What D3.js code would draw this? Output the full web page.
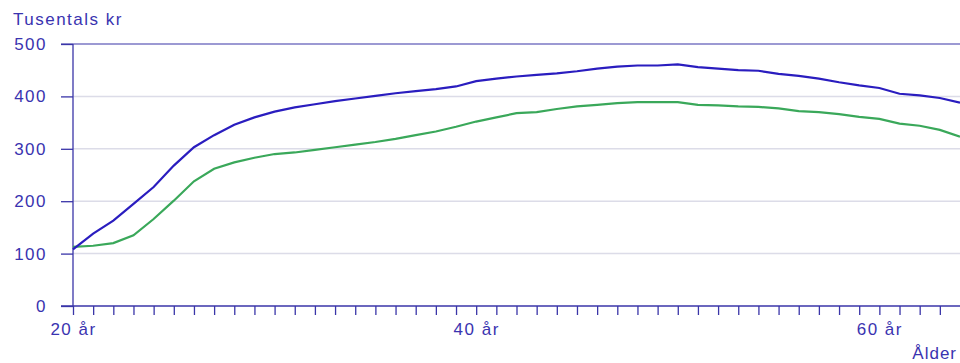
<!DOCTYPE html>
<html>
<head>
<meta charset="utf-8">
<script src="https://cdn.jsdelivr.net/npm/d3@7"></script>
<style>
  html, body { margin: 0; padding: 0; background: #fff; }
  svg { display: block; font-family: "Liberation Sans", Arial, sans-serif; }
  .lbl { font-size: 17px; letter-spacing: 1.5px; }
</style>
</head>
<body>
<svg id="chart" width="960" height="363"></svg>
<script>
// Data
const ages = d3.range(20, 65);
const seriesBlue = [108, 138, 163, 195, 227, 268, 303, 326, 346, 360,
                    371, 379, 385, 391, 396, 401, 406, 410, 414, 419,
                    429, 434, 438, 441, 444, 448, 453, 457, 459, 459,
                    461, 456, 453, 450, 449, 443, 439, 434, 427, 421,
                    416, 405, 402, 397, 388];
const seriesGreen = [113, 115, 120, 135, 166, 201, 238, 262, 274, 283,
                     290, 293, 298, 303, 308, 313, 319, 326, 333, 342,
                     352, 360, 368, 370, 376, 381, 384, 387, 389, 389,
                     389, 384, 383, 381, 380, 377, 372, 370, 366, 361,
                     357, 348, 344, 336, 323];
const yTicks = [0, 100, 200, 300, 400, 500];
const xLabelTicks = [20, 40, 60];
const yTitle = "Tusentals kr";
const xTitle = "Ålder";

const axisColor = "#3a35a8";
const textColor = "#3a33b0";

const svg = d3.select("#chart");
const x = d3.scaleLinear().domain([20, 64]).range([73, 960]);
const y = d3.scaleLinear().domain([0, 500]).range([306, 44]);

// gridlines
svg.append("g").selectAll("line").data(yTicks.filter(d => d > 0 && d < 500)).join("line")
  .attr("x1", x(20)).attr("x2", 960)
  .attr("y1", d => y(d)).attr("y2", d => y(d))
  .attr("stroke", "#dcdce8").attr("stroke-width", 1.5);

// top line at 500
svg.append("line").attr("x1", 61).attr("x2", 960)
  .attr("y1", y(500)).attr("y2", y(500))
  .attr("stroke", axisColor).attr("stroke-width", 1.2);

// y axis
const yAxis = d3.axisLeft(y).tickValues(yTicks).tickSize(12).tickPadding(14);
const gy = svg.append("g").attr("transform", `translate(${x(20)},0)`).call(yAxis);
gy.select(".domain").attr("stroke", axisColor).attr("stroke-width", 1.3).attr("d", `M0,${y(0)}V${y(500)}`);
gy.selectAll(".tick line").attr("stroke", axisColor).attr("stroke-width", 1.3);
gy.selectAll(".tick text").attr("fill", textColor).attr("class", "lbl")
  .attr("font-family", "Liberation Sans, Arial, sans-serif");

// x axis
const xAxis = d3.axisBottom(x).tickValues(d3.range(20, 64)).tickSize(9)
  .tickFormat(d => xLabelTicks.includes(d) ? d + " år" : "").tickPadding(8);
const gx = svg.append("g").attr("transform", `translate(0,${y(0)})`).call(xAxis);
gx.select(".domain").attr("stroke", axisColor).attr("stroke-width", 1.3).attr("d", `M61,0H960`);
gx.selectAll(".tick line").attr("stroke", axisColor).attr("stroke-width", 1.3);
gx.selectAll(".tick text").attr("fill", textColor).attr("class", "lbl")
  .attr("font-family", "Liberation Sans, Arial, sans-serif");

// titles
svg.append("text").attr("x", 13).attr("y", 25).text(yTitle)
  .attr("fill", textColor).attr("class", "lbl");
svg.append("text").attr("x", 957).attr("y", 359).attr("text-anchor", "end").text(xTitle)
  .attr("fill", textColor).attr("class", "lbl").style("letter-spacing", "1px");

// lines
const line = d3.line().x((d, i) => x(ages[i])).y(d => y(d));
svg.append("path").datum(seriesGreen).attr("d", line)
  .attr("fill", "none").attr("stroke", "#3aa85a").attr("stroke-width", 2.2);
svg.append("path").datum(seriesBlue).attr("d", line)
  .attr("fill", "none").attr("stroke", "#2a1dbf").attr("stroke-width", 2.2);
</script>
</body>
</html>
